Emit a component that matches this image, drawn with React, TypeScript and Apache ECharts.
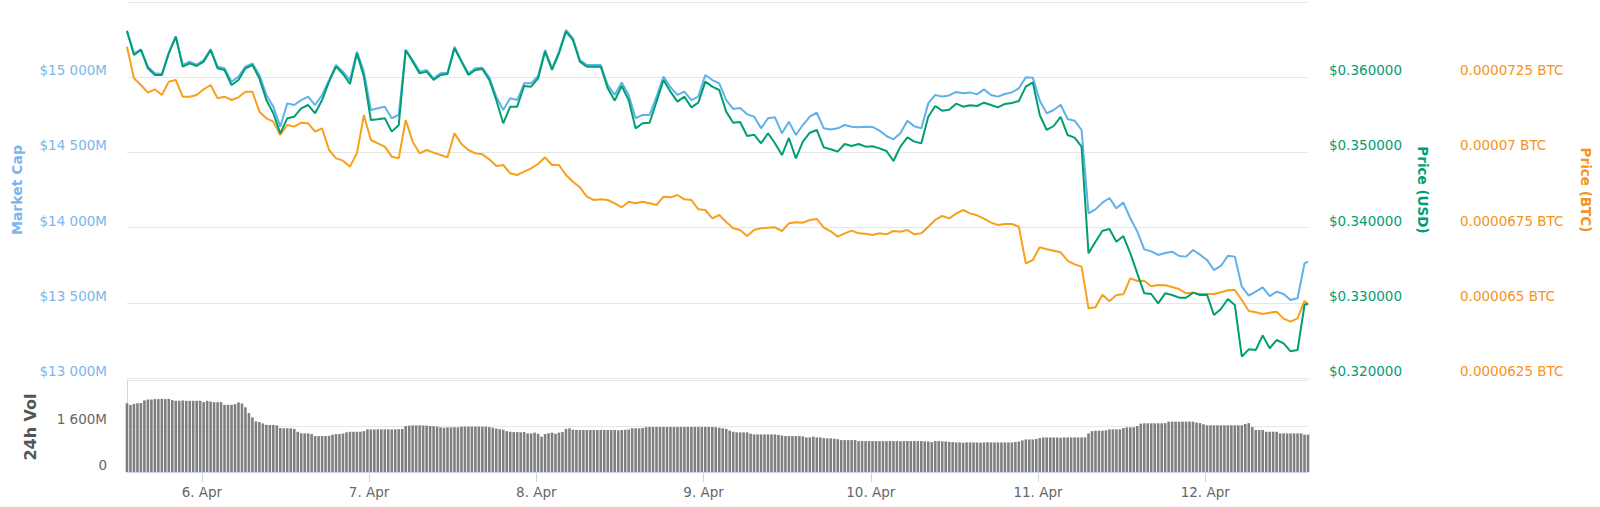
import React, { useEffect, useRef } from "react";
import * as echarts from "echarts";

// ---- time base ----
const START = Date.UTC(2018, 3, 5, 13, 15);
const HOUR = 3600000;
const END = START + 169.5 * HOUR;

const dayTicks = [6, 7, 8, 9, 10, 11, 12].map((d) => Date.UTC(2018, 3, d));
const dayLabels = ["6. Apr", "7. Apr", "8. Apr", "9. Apr", "10. Apr", "11. Apr", "12. Apr"];

// ---- Market cap (million USD), hourly ----
const marketCap = [
  15303, 15159, 15185, 15070, 15026, 15021, 15163, 15270, 15081, 15103,
  15083, 15114, 15185, 15070, 15059, 14970, 15004, 15070, 15092, 15015,
  14882, 14804, 14671, 14826, 14815, 14848, 14871, 14815, 14882, 14981,
  15081, 15037, 14981, 15170, 15037, 14782, 14793, 14804, 14727, 14749,
  15181, 15114, 15037, 15048, 14992, 15026, 15030, 15203, 15110, 15026,
  15059, 15063, 14999, 14871, 14782, 14860, 14848, 14959, 14959, 15008,
  15181, 15059, 15170, 15314, 15258, 15114, 15081, 15081, 15081, 14948,
  14882, 14964, 14882, 14727, 14749, 14749, 14871, 15004, 14933, 14882,
  14904, 14848, 14871, 15015, 14981, 14959, 14848, 14789, 14795, 14753,
  14738, 14660, 14727, 14733, 14627, 14704, 14616, 14682, 14738, 14764,
  14660, 14653, 14660, 14682, 14671, 14667, 14671, 14669, 14645, 14609,
  14587, 14627, 14711, 14673, 14660, 14826, 14882, 14871, 14879, 14902,
  14893, 14899, 14886, 14919, 14882, 14871, 14888, 14899, 14926, 14999,
  14997, 14844, 14760, 14782, 14817, 14722, 14711, 14649, 14095, 14121,
  14166, 14197, 14128, 14166, 14062, 13973, 13855, 13842, 13818, 13831,
  13840, 13811, 13807, 13851, 13820, 13785, 13718, 13745, 13813, 13807,
  13607, 13547, 13574, 13603, 13545, 13574, 13559, 13519, 13530, 13762,
  13774,
];

// ---- Price (USD), hourly ----
const priceUsd = [
  0.36619, 0.36295, 0.36362, 0.36118, 0.36029, 0.36029, 0.36317, 0.36539, 0.3614, 0.36184,
  0.36149, 0.36207, 0.36362, 0.36118, 0.36096, 0.35896, 0.35963, 0.36118, 0.36162, 0.35985,
  0.35697, 0.3552, 0.35254, 0.35453, 0.35475, 0.35586, 0.3563, 0.3552, 0.35697, 0.35941,
  0.3614, 0.36043, 0.3591, 0.36317, 0.36007, 0.35431, 0.3544, 0.35453, 0.35276, 0.35364,
  0.36362, 0.36207, 0.36051, 0.36074, 0.35963, 0.36029, 0.36043, 0.36384, 0.36207, 0.36029,
  0.36096, 0.36109, 0.35963, 0.35697, 0.35387, 0.35608, 0.35608, 0.35883, 0.35874, 0.35985,
  0.3634, 0.36096, 0.36317, 0.36606, 0.36495, 0.36207, 0.3614, 0.3614, 0.3614, 0.35852,
  0.35688, 0.35883, 0.35697, 0.3532, 0.35387, 0.35395, 0.35675, 0.35963, 0.35808, 0.35675,
  0.35741, 0.35599, 0.35661, 0.35941, 0.35874, 0.3583, 0.35542, 0.35395, 0.35404, 0.35218,
  0.35236, 0.35121, 0.35254, 0.35121, 0.34965, 0.35192, 0.34921, 0.35143, 0.35262, 0.35298,
  0.35067, 0.35041, 0.3501, 0.35112, 0.35085, 0.35112, 0.35076, 0.35081, 0.35054, 0.35019,
  0.34886, 0.35076, 0.352, 0.35143, 0.35121, 0.35475, 0.35617, 0.35555, 0.35568, 0.35648,
  0.35608, 0.35626, 0.35617, 0.35661, 0.3563, 0.35599, 0.35644, 0.35657, 0.35684, 0.35874,
  0.35932, 0.35497, 0.35298, 0.35351, 0.35471, 0.35231, 0.35196, 0.35076, 0.33658, 0.33813,
  0.33959, 0.33981, 0.33813, 0.33888, 0.33658, 0.33392, 0.33126, 0.33117, 0.32993, 0.33126,
  0.33104, 0.33068, 0.33068, 0.33135, 0.33104, 0.33108, 0.32838, 0.32918, 0.33051, 0.32971,
  0.32284, 0.32381, 0.32372, 0.32567, 0.32395, 0.32505, 0.32461, 0.32355, 0.32372, 0.32971,
  0.32993,
];

// ---- Price (BTC), hourly ----
const priceBtc = [
  7.3515e-5, 7.2462e-5, 7.2241e-5, 7.1986e-5, 7.2097e-5, 7.1908e-5, 7.2352e-5, 7.2407e-5, 7.1853e-5, 7.1853e-5,
  7.1908e-5, 7.2097e-5, 7.2241e-5, 7.1798e-5, 7.1853e-5, 7.1742e-5, 7.1831e-5, 7.2019e-5, 7.2019e-5, 7.1354e-5,
  7.1133e-5, 7.1022e-5, 7.0579e-5, 7.0911e-5, 7.0856e-5, 7.0989e-5, 7.0966e-5, 7.0689e-5, 7.08e-5, 7.008e-5,
  6.9803e-5, 6.9725e-5, 6.9526e-5, 6.9969e-5, 7.1243e-5, 7.0412e-5, 7.0301e-5, 7.0191e-5, 6.9858e-5, 6.9803e-5,
  7.1077e-5, 7.0357e-5, 6.9969e-5, 7.008e-5, 6.9991e-5, 6.9914e-5, 6.9836e-5, 7.0634e-5, 7.0279e-5, 7.008e-5,
  6.9969e-5, 6.9936e-5, 6.977e-5, 6.9548e-5, 6.9581e-5, 6.9304e-5, 6.9249e-5, 6.936e-5, 6.947e-5, 6.9614e-5,
  6.9836e-5, 6.9581e-5, 6.9581e-5, 6.9249e-5, 6.9027e-5, 6.8839e-5, 6.8528e-5, 6.8418e-5, 6.844e-5, 6.8418e-5,
  6.8307e-5, 6.8174e-5, 6.8362e-5, 6.8307e-5, 6.8362e-5, 6.8307e-5, 6.8251e-5, 6.8528e-5, 6.8506e-5, 6.8584e-5,
  6.844e-5, 6.8418e-5, 6.8107e-5, 6.8085e-5, 6.7808e-5, 6.7919e-5, 6.7686e-5, 6.7476e-5, 6.742e-5, 6.7221e-5,
  6.742e-5, 6.7476e-5, 6.7498e-5, 6.7509e-5, 6.7387e-5, 6.7642e-5, 6.7675e-5, 6.7664e-5, 6.7753e-5, 6.7786e-5,
  6.7498e-5, 6.7376e-5, 6.7199e-5, 6.7309e-5, 6.7398e-5, 6.7309e-5, 6.7298e-5, 6.7254e-5, 6.7309e-5, 6.7276e-5,
  6.7387e-5, 6.7365e-5, 6.742e-5, 6.7276e-5, 6.7309e-5, 6.7531e-5, 6.7753e-5, 6.7886e-5, 6.7808e-5, 6.7963e-5,
  6.8085e-5, 6.7974e-5, 6.7908e-5, 6.7797e-5, 6.7664e-5, 6.7587e-5, 6.762e-5, 6.762e-5, 6.7531e-5, 6.6312e-5,
  6.6423e-5, 6.6844e-5, 6.6778e-5, 6.6733e-5, 6.6678e-5, 6.6401e-5, 6.6279e-5, 6.6201e-5, 6.4816e-5, 6.4849e-5,
  6.527e-5, 6.5049e-5, 6.5259e-5, 6.5281e-5, 6.5813e-5, 6.5725e-5, 6.5736e-5, 6.5547e-5, 6.5592e-5, 6.5581e-5,
  6.5525e-5, 6.5459e-5, 6.5315e-5, 6.5337e-5, 6.5293e-5, 6.5293e-5, 6.5293e-5, 6.5348e-5, 6.5415e-5, 6.5426e-5,
  6.5093e-5, 6.4727e-5, 6.4683e-5, 6.4628e-5, 6.4672e-5, 6.4705e-5, 6.4473e-5, 6.4373e-5, 6.4484e-5, 6.506e-5,
  6.4927e-5,
];

// ---- 24h volume (million USD), half-hourly ----
const volume24h = [
  2390, 2330, 2370, 2390, 2400,
  2490, 2520, 2520, 2535, 2535, 2545, 2535, 2545,
  2500, 2476, 2476, 2490, 2476, 2476, 2476, 2476, 2476,
  2430, 2476, 2450, 2430, 2430, 2430,
  2336, 2336, 2336, 2360,
  2420, 2380, 2250, 2050, 1900,
  1760, 1740, 1690,
  1640, 1635, 1635, 1620,
  1530, 1520, 1520, 1520, 1500,
  1400, 1350, 1343, 1343, 1320,
  1250, 1250, 1250, 1250, 1260,
  1300, 1320, 1320, 1340, 1380,
  1400, 1400, 1400, 1400, 1420,
  1483, 1483, 1480, 1483, 1483, 1483, 1483, 1480, 1483, 1490, 1500,
  1600, 1612, 1620, 1620, 1620, 1620, 1612, 1600, 1590, 1580,
  1553, 1540, 1553, 1553, 1560, 1553, 1577, 1577,
  1577, 1577, 1577, 1577, 1577, 1577, 1560,
  1540, 1510, 1490, 1470,
  1420, 1400, 1390, 1390, 1380, 1390,
  1343, 1343, 1370, 1330, 1230,
  1320, 1350, 1367, 1330, 1370, 1390,
  1500, 1520,
  1470, 1460, 1460, 1460, 1460, 1460, 1460, 1460, 1460, 1460, 1460, 1460, 1460, 1450, 1460, 1470,
  1480, 1520, 1520, 1520, 1530, 1560, 1565,
  1565, 1565, 1565, 1565, 1565, 1565, 1565, 1565, 1565, 1565, 1565, 1565, 1565, 1565, 1565, 1565, 1565,
  1565, 1560, 1540, 1520, 1500,
  1440, 1400, 1378, 1378, 1378, 1378,
  1330, 1308, 1308, 1308, 1308, 1308, 1308, 1308,
  1290, 1270, 1250, 1250, 1250, 1250, 1250, 1240,
  1203, 1203, 1230, 1203, 1203,
  1180, 1170, 1170, 1160, 1140,
  1110, 1110, 1110, 1110, 1110,
  1075, 1080, 1075, 1075, 1075, 1075, 1070, 1075, 1075, 1080, 1075, 1075, 1070, 1075, 1075, 1075, 1080, 1075, 1075,
  1065, 1060, 1040, 1080, 1075, 1065, 1060, 1050,
  1040, 1030, 1030, 1020, 1030, 1030,
  1028, 1028, 1020, 1028, 1035, 1028, 1028, 1028, 1028, 1028, 1028, 1028, 1040, 1060,
  1100, 1133, 1133, 1133, 1150, 1180,
  1203, 1203, 1203, 1203, 1203, 1190, 1203, 1203, 1203, 1203, 1203, 1203, 1203,
  1343,
  1420, 1437, 1437, 1437, 1450,
  1483, 1483, 1483, 1483,
  1530, 1553, 1553, 1560, 1600,
  1680, 1694, 1694, 1694, 1694, 1694, 1694, 1700,
  1752, 1752, 1752, 1752, 1752, 1752, 1752, 1752,
  1717, 1700, 1660,
  1624, 1624, 1624, 1624, 1624, 1624, 1624, 1624, 1624, 1624, 1624,
  1670, 1700,
  1560,
  1460, 1460, 1460,
  1400, 1400, 1400, 1400,
  1343, 1343, 1343, 1343, 1343, 1343, 1343,
  1300, 1300,
];

// ---- colours ----
const C_MCAP_LINE = "#5fb1ea";
const C_MCAP_TEXT = "#7cb5ec";
const C_USD = "#009e73";
const C_BTC_LINE = "#f8a01c";
const C_BTC_TEXT = "#f7931a";
const C_VOL = "#7f7f7f";
const FONT = '"DejaVu Sans", Verdana, sans-serif';

function spaced(n: number): string {
  return String(Math.round(n)).replace(/\B(?=(\d{3})+(?!\d))/g, " ");
}

function lineTime(j: number): number {
  return j < 170 ? START + j * HOUR : END;
}

export default function App() {
  const ref = useRef<HTMLDivElement>(null);

  useEffect(() => {
    if (!ref.current) return;
    const chart = echarts.init(ref.current, undefined, { renderer: "svg" });

    const mcData = marketCap.map((v, j) => [lineTime(j), v]);
    const usdData = priceUsd.map((v, j) => [lineTime(j), v]);
    const btcData = priceBtc.map((v, j) => [lineTime(j), v]);
    const volData = volume24h.map((v, i) => [START + i * 0.5 * HOUR, v]);

    const gridLeft = 127;
    const gridRight = 292;

    const option: any = {
      animation: false,
      backgroundColor: "#ffffff",
      textStyle: { fontFamily: FONT },
      grid: [
        { left: gridLeft, right: gridRight, top: 2, height: 376, containLabel: false, outerBoundsMode: "none" },
        { left: gridLeft, right: gridRight, top: 380, height: 92, containLabel: false, outerBoundsMode: "none" },
      ],
      xAxis: [
        {
          type: "value",
          gridIndex: 0,
          min: START,
          max: END,
          show: false,
          splitLine: { show: false },
        },
        {
          type: "value",
          gridIndex: 1,
          min: START,
          max: END,
          axisLine: { show: true, lineStyle: { color: "#ccd6eb", width: 1 } },
          axisTick: {
            show: true,
            length: 10,
            lineStyle: { color: "#ccd6eb" },
            customValues: dayTicks,
          },
          axisLabel: {
            customValues: dayTicks,
            color: "#666666",
            fontSize: 13.5,
            fontFamily: FONT,
            margin: 13,
            formatter: (v: number) => {
              const idx = dayTicks.indexOf(v);
              return idx >= 0 ? dayLabels[idx] : "";
            },
          },
          splitLine: { show: false },
        },
      ],
      yAxis: [
        {
          type: "value",
          gridIndex: 0,
          position: "left",
          min: 13000,
          max: 15500,
          interval: 500,
          axisLine: { show: false },
          axisTick: { show: false },
          splitLine: { show: true, lineStyle: { color: "#e6e6e6", width: 1 } },
          axisLabel: {
            color: C_MCAP_TEXT,
            fontSize: 13.5,
            fontFamily: FONT,
            margin: 20,
            verticalAlign: "bottom",
            showMaxLabel: false,
            formatter: (v: number) => `$${spaced(v)}M`,
          },
        },
        {
          type: "value",
          gridIndex: 0,
          position: "right",
          offset: 0,
          min: 0.32,
          max: 0.37,
          interval: 0.01,
          axisLine: { show: false },
          axisTick: { show: false },
          splitLine: { show: false },
          axisLabel: {
            color: C_USD,
            fontSize: 13.5,
            fontFamily: FONT,
            margin: 21,
            verticalAlign: "bottom",
            showMaxLabel: false,
            formatter: (v: number) => `$${v.toFixed(6)}`,
          },
        },
        {
          type: "value",
          gridIndex: 0,
          position: "right",
          offset: 131,
          min: 0.0000625,
          max: 0.000075,
          interval: 0.0000025,
          axisLine: { show: false },
          axisTick: { show: false },
          splitLine: { show: false },
          axisLabel: {
            color: C_BTC_TEXT,
            fontSize: 13.5,
            fontFamily: FONT,
            margin: 21,
            verticalAlign: "bottom",
            showMaxLabel: false,
            formatter: (v: number) => `${String(parseFloat(v.toFixed(9)))} BTC`,
          },
        },
        {
          type: "value",
          gridIndex: 1,
          position: "left",
          min: 0,
          max: 3200,
          interval: 1600,
          axisLine: { show: true, lineStyle: { color: "#ccd6eb", width: 1 } },
          axisTick: { show: false },
          splitLine: { show: true, lineStyle: { color: "#e6e6e6", width: 1 } },
          axisLabel: {
            color: "#666666",
            fontSize: 13.5,
            fontFamily: FONT,
            margin: 20,
            verticalAlign: "bottom",
            showMaxLabel: false,
            formatter: (v: number) => (v === 0 ? "0" : `${spaced(v)}M`),
          },
        },
      ],
      series: [
        {
          name: "Market Cap",
          type: "line",
          xAxisIndex: 0,
          yAxisIndex: 0,
          data: mcData,
          showSymbol: false,
          symbol: "none",
          lineStyle: { color: C_MCAP_LINE, width: 2 },
          itemStyle: { color: C_MCAP_LINE },
          z: 2,
        },
        {
          name: "Price (BTC)",
          type: "line",
          xAxisIndex: 0,
          yAxisIndex: 2,
          data: btcData,
          showSymbol: false,
          symbol: "none",
          lineStyle: { color: C_BTC_LINE, width: 2 },
          itemStyle: { color: C_BTC_LINE },
          z: 3,
        },
        {
          name: "Price (USD)",
          type: "line",
          xAxisIndex: 0,
          yAxisIndex: 1,
          data: usdData,
          showSymbol: false,
          symbol: "none",
          lineStyle: { color: C_USD, width: 2 },
          itemStyle: { color: C_USD },
          z: 4,
        },
        {
          name: "24h Vol",
          type: "bar",
          xAxisIndex: 1,
          yAxisIndex: 3,
          data: volData,
          barWidth: 2.6,
          itemStyle: { color: C_VOL },
          z: 2,
        },
      ],
      graphic: [
        {
          type: "text",
          x: 17,
          y: 190,
          rotation: Math.PI / 2,
          style: {
            text: "Market Cap",
            fill: C_MCAP_TEXT,
            fontSize: 14,
            fontWeight: "bold",
            fontFamily: FONT,
            align: "center",
            verticalAlign: "middle",
          },
        },
        {
          type: "text",
          x: 30,
          y: 427,
          rotation: Math.PI / 2,
          style: {
            text: "24h Vol",
            fill: "#555555",
            fontSize: 16,
            fontWeight: "bold",
            fontFamily: FONT,
            align: "center",
            verticalAlign: "middle",
          },
        },
        {
          type: "text",
          x: 1423,
          y: 190,
          rotation: -Math.PI / 2,
          style: {
            text: "Price (USD)",
            fill: C_USD,
            fontSize: 13.5,
            fontWeight: "bold",
            fontFamily: FONT,
            align: "center",
            verticalAlign: "middle",
          },
        },
        {
          type: "text",
          x: 1586,
          y: 190,
          rotation: -Math.PI / 2,
          style: {
            text: "Price (BTC)",
            fill: C_BTC_TEXT,
            fontSize: 13.5,
            fontWeight: "bold",
            fontFamily: FONT,
            align: "center",
            verticalAlign: "middle",
          },
        },
      ],
    };

    chart.setOption(option);
    return () => {
      chart.dispose();
    };
  }, []);

  return (
    <div
      ref={ref}
      style={{ position: "fixed", left: 0, top: 0, width: 1600, height: 507, background: "#fff" }}
    />
  );
}
